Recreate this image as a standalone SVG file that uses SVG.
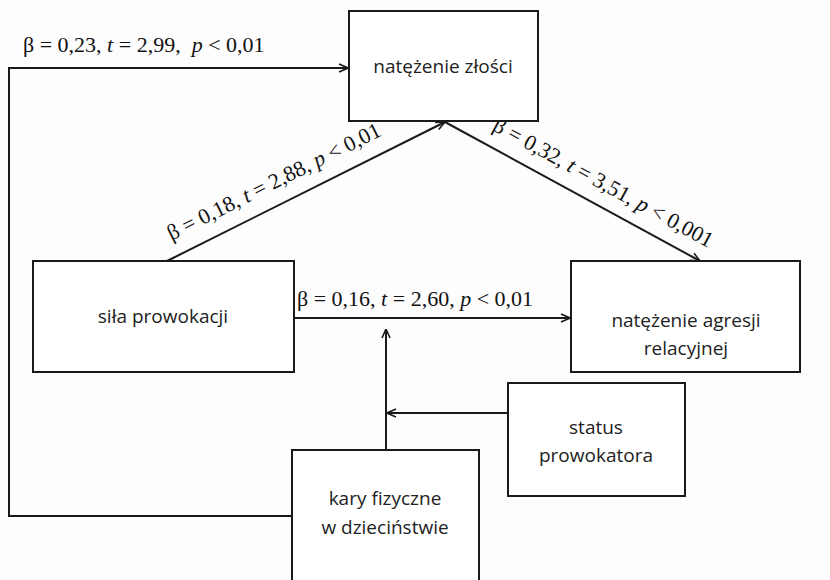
<svg xmlns="http://www.w3.org/2000/svg" width="830" height="580" viewBox="0 0 830 580">
<style>
.box{fill:#fff;stroke:#1a1a1a;stroke-width:2}
.lbl{font-family:"Open Sans","DejaVu Sans",sans-serif;font-size:19px;fill:#222;text-anchor:middle}
.st{font-family:"Liberation Serif","Times New Roman",serif;font-size:22px;fill:#111}
.ln{fill:none;stroke:#1a1a1a;stroke-width:2}
</style>
<defs>
<marker id="ah" viewBox="0 0 10 10" refX="10" refY="5" markerWidth="10" markerHeight="10" markerUnits="userSpaceOnUse" orient="auto">
<path d="M1,1 L10,5 L1,9" fill="none" stroke="#1a1a1a" stroke-width="1.6"/>
</marker>
</defs>
<rect width="830" height="580" fill="#fdfdfd"/>
<g id="connectors">
<polyline class="ln" points="292,516 9,516 9,68 348,68" marker-end="url(#ah)"/>
<line class="ln" x1="167" y1="261" x2="445" y2="122" marker-end="url(#ah)"/>
<line class="ln" x1="445" y1="122" x2="700" y2="261" marker-end="url(#ah)"/>
<line class="ln" x1="294" y1="318" x2="570" y2="318" marker-end="url(#ah)"/>
<line class="ln" x1="386" y1="450" x2="386" y2="329" marker-end="url(#ah)"/>
<line class="ln" x1="508" y1="413" x2="387" y2="413" marker-end="url(#ah)"/>
<text class="st" x="23" y="52">β = 0,23, <tspan font-style="italic">t</tspan> = 2,99, &#160;<tspan font-style="italic">p</tspan> &lt; 0,01</text>
<text class="st" x="297" y="306">β = 0,16, <tspan font-style="italic">t</tspan> = 2,60, <tspan font-style="italic">p</tspan> &lt; 0,01</text>
<text class="st" text-anchor="middle" transform="translate(277,188) rotate(-26.6)">β = 0,18, <tspan font-style="italic">t</tspan> = 2,88, <tspan font-style="italic">p</tspan> &lt; 0,01</text>
<text class="st" text-anchor="middle" transform="translate(600,189) rotate(28.6)">β = 0,32, <tspan font-style="italic">t</tspan> = 3,51, <tspan font-style="italic">p</tspan> &lt; 0,001</text>
</g>
<g id="node-zlosc">
<rect class="box" x="349" y="11" width="189" height="110"/>
<text class="lbl" x="443" y="73">natężenie złości</text>
</g>
<g id="node-prowokacja">
<rect class="box" x="33" y="261" width="261" height="111"/>
<text class="lbl" x="163" y="323">siła prowokacji</text>
</g>
<g id="node-agresja">
<rect class="box" x="571" y="261" width="229" height="111"/>
<text class="lbl" x="686" y="327">natężenie agresji</text>
<text class="lbl" x="686" y="355">relacyjnej</text>
</g>
<g id="node-status">
<rect class="box" x="508" y="383" width="177" height="113"/>
<text class="lbl" x="596" y="434">status</text>
<text class="lbl" x="596" y="462">prowokatora</text>
</g>
<g id="node-kary">
<rect class="box" x="292" y="450" width="187" height="140"/>
<text class="lbl" x="385" y="505">kary fizyczne</text>
<text class="lbl" x="385" y="534">w dzieciństwie</text>
</g>
</svg>
